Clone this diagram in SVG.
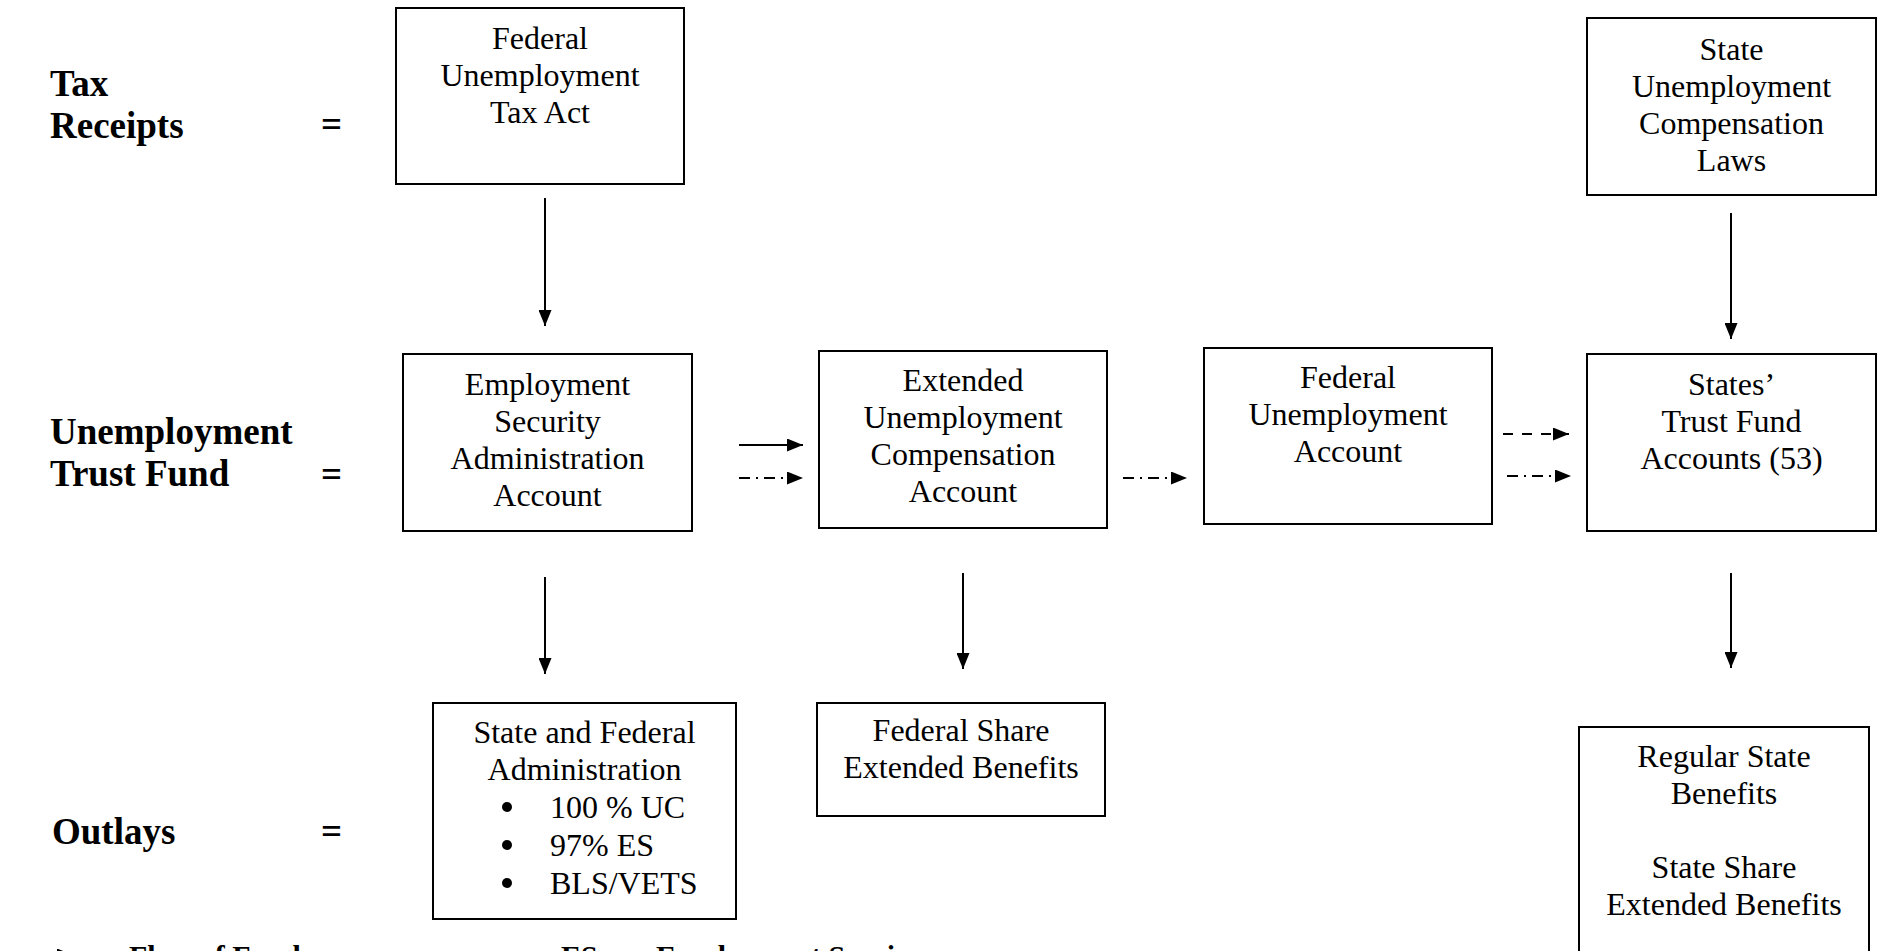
<svg xmlns="http://www.w3.org/2000/svg" width="1881" height="951" viewBox="0 0 1881 951">
<style>
  text { font-family: "Liberation Serif", "Times New Roman", serif; fill: #000; }
  .t { font-size: 32px; text-anchor: middle; }
  .tl { font-size: 32px; }
  .b { font-size: 37px; font-weight: bold; }
  .lg { font-size: 30px; font-weight: bold; }
  .box { fill: #fff; stroke: #000; stroke-width: 2; }
  .c { stroke: #000; stroke-width: 2; fill: none; marker-end: url(#ah); }
  .dash { stroke-dasharray: 10 9; }
  .dd { stroke-dasharray: 11 6 2 6; }
</style>
<defs>
  <marker id="ah" markerUnits="userSpaceOnUse" markerWidth="16" markerHeight="13" refX="16" refY="6.5" orient="auto">
    <path d="M0,0 L16,6.5 L0,13 z" fill="#000"/>
  </marker>
</defs>
<rect width="1881" height="951" fill="#fff"/>

<g id="labels">
  <text class="b" x="50" y="96">Tax</text>
  <text class="b" x="50" y="138">Receipts</text>
  <text class="b" x="321" y="137">=</text>
  <text class="b" x="50" y="444">Unemployment</text>
  <text class="b" x="50" y="486">Trust Fund</text>
  <text class="b" x="321" y="487">=</text>
  <text class="b" x="52" y="844">Outlays</text>
  <text class="b" x="321" y="844">=</text>
</g>

<g id="futa">
  <rect class="box" x="396" y="8" width="288" height="176"/>
  <text class="t" x="540" y="49">Federal</text>
  <text class="t" x="540" y="86">Unemployment</text>
  <text class="t" x="540" y="123">Tax Act</text>
</g>

<g id="sucl">
  <rect class="box" x="1587" y="18" width="289" height="177"/>
  <text class="t" x="1731.5" y="60">State</text>
  <text class="t" x="1731.5" y="97">Unemployment</text>
  <text class="t" x="1731.5" y="134">Compensation</text>
  <text class="t" x="1731.5" y="171">Laws</text>
</g>

<g id="esa">
  <rect class="box" x="403" y="354" width="289" height="177"/>
  <text class="t" x="547.5" y="395">Employment</text>
  <text class="t" x="547.5" y="432">Security</text>
  <text class="t" x="547.5" y="469">Administration</text>
  <text class="t" x="547.5" y="506">Account</text>
</g>

<g id="euca">
  <rect class="box" x="819" y="351" width="288" height="177"/>
  <text class="t" x="963" y="391">Extended</text>
  <text class="t" x="963" y="428">Unemployment</text>
  <text class="t" x="963" y="465">Compensation</text>
  <text class="t" x="963" y="502">Account</text>
</g>

<g id="fua">
  <rect class="box" x="1204" y="348" width="288" height="176"/>
  <text class="t" x="1348" y="388">Federal</text>
  <text class="t" x="1348" y="425">Unemployment</text>
  <text class="t" x="1348" y="462">Account</text>
</g>

<g id="stf">
  <rect class="box" x="1587" y="354" width="289" height="177"/>
  <text class="t" x="1731.5" y="395">States’</text>
  <text class="t" x="1731.5" y="432">Trust Fund</text>
  <text class="t" x="1731.5" y="469">Accounts (53)</text>
</g>

<g id="sfa">
  <rect class="box" x="433" y="703" width="303" height="216"/>
  <text class="t" x="584.5" y="743">State and Federal</text>
  <text class="t" x="584.5" y="780">Administration</text>
  <circle cx="507" cy="807" r="5"/>
  <text class="tl" x="550" y="818">100 % UC</text>
  <circle cx="507" cy="845" r="5"/>
  <text class="tl" x="550" y="856">97% ES</text>
  <circle cx="507" cy="883" r="5"/>
  <text class="tl" x="550" y="894">BLS/VETS</text>
</g>

<g id="fseb">
  <rect class="box" x="817" y="703" width="288" height="113"/>
  <text class="t" x="961" y="741">Federal Share</text>
  <text class="t" x="961" y="778">Extended Benefits</text>
</g>

<g id="rsb">
  <rect class="box" x="1579" y="727" width="290" height="260"/>
  <text class="t" x="1724" y="767">Regular State</text>
  <text class="t" x="1724" y="804">Benefits</text>
  <text class="t" x="1724" y="878">State Share</text>
  <text class="t" x="1724" y="915">Extended Benefits</text>
</g>

<g id="connectors">
  <line class="c" x1="545" y1="198" x2="545" y2="326"/>
  <line class="c" x1="1731" y1="213" x2="1731" y2="339"/>
  <line class="c" x1="545" y1="577" x2="545" y2="674"/>
  <line class="c" x1="963" y1="573" x2="963" y2="669"/>
  <line class="c" x1="1731" y1="573" x2="1731" y2="668"/>
  <line class="c" x1="739" y1="445" x2="803" y2="445"/>
  <line class="c dd" x1="739" y1="478" x2="803" y2="478"/>
  <line class="c dd" x1="1123" y1="478" x2="1187" y2="478"/>
  <line class="c dash" x1="1503" y1="434" x2="1569" y2="434"/>
  <line class="c dd" x1="1507" y1="476" x2="1571" y2="476"/>
</g>

<g id="legend">
  <line class="c" x1="48" y1="955" x2="73" y2="955"/>
  <text class="lg" x="129" y="966">Flow of Funds</text>
  <text class="lg" x="561" y="966">ES</text>
  <text class="lg" x="622" y="966">=</text>
  <text class="lg" x="656" y="966">Employment Service</text>
</g>
</svg>
